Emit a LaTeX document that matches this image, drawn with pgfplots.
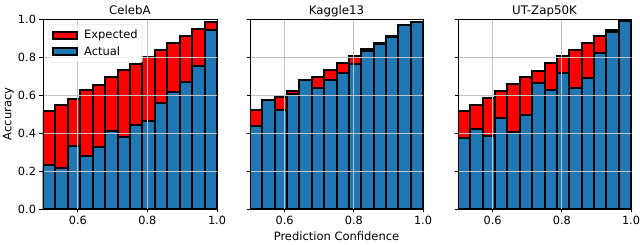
\documentclass[border=0pt]{standalone}
\usepackage{fontspec}
\setmainfont{DejaVu Sans}
\usepackage{pgfplots}
\usepackage{pgfplotstable}
\pgfplotsset{compat=1.18}
\definecolor{tabblue}{RGB}{31,119,180}
\definecolor{gridgray}{RGB}{195,195,195}

\pgfplotstableread{
x exp act
0.517857 0.518 0.231
0.553571 0.545 0.214
0.589286 0.580 0.331
0.625000 0.627 0.279
0.660714 0.655 0.328
0.696429 0.693 0.412
0.732143 0.729 0.378
0.767857 0.764 0.442
0.803571 0.802 0.465
0.839286 0.839 0.556
0.875000 0.872 0.617
0.910714 0.913 0.670
0.946429 0.947 0.754
0.982143 0.982 0.940
}\celeba

\pgfplotstableread{
x exp act
0.517857 0.520 0.437
0.553571 0.554 0.572
0.589286 0.590 0.521
0.625000 0.621 0.604
0.660714 0.661 0.680
0.696429 0.695 0.635
0.732143 0.730 0.679
0.767857 0.767 0.714
0.803571 0.803 0.761
0.839286 0.840 0.830
0.875000 0.873 0.866
0.910714 0.910 0.907
0.946429 0.946 0.971
0.982143 0.982 0.982
}\kaggle

\pgfplotstableread{
x exp act
0.517857 0.517 0.375
0.553571 0.547 0.419
0.589286 0.584 0.384
0.625000 0.622 0.477
0.660714 0.657 0.407
0.696429 0.695 0.495
0.732143 0.728 0.661
0.767857 0.768 0.626
0.803571 0.804 0.714
0.839286 0.836 0.639
0.875000 0.872 0.691
0.910714 0.908 0.823
0.946429 0.944 0.931
0.982143 0.982 0.991
}\zap

\pgfplotsset{
  myax/.style={
    scale only axis, width=174pt, height=190pt,
    xmin=0.5, xmax=1, ymin=0, ymax=1,
    xtick={0.6,0.8,1.0}, ytick={0,0.2,0.4,0.6,0.8,1.0},
    ybar,
    grid=major, grid style={line width=0.9pt, color=gridgray},
    axis on top,
    tick align=outside, tick pos=left, major tick length=3.5pt,
    tick style={black, line width=0.8pt},
    axis line style={line width=0.8pt},
    /pgf/number format/assume math mode=true,
    xticklabel style={font=\fontsize{11.3}{13}\selectfont, /pgf/number format/.cd, fixed, fixed zerofill, precision=1},
    yticklabel style={font=\fontsize{11.3}{13}\selectfont, /pgf/number format/.cd, fixed, fixed zerofill, precision=1},
    every axis title/.style={at={([yshift=4.5pt]axis description cs:0.5,1)}, anchor=base, font=\fontsize{11.8}{13}\selectfont},
    every axis x label/.style={at={([yshift=-31.5pt]axis description cs:0.5,0)}, anchor=base, font=\fontsize{11.5}{13}\selectfont},
    every axis y label/.style={at={([xshift=-31.5pt]axis description cs:0,0.5)}, anchor=base, rotate=90, font=\fontsize{11.5}{13}\selectfont},
  },
  expbar/.style={fill=red, draw=black, line width=2pt, bar width=0.0357143, bar shift=0pt},
  actbar/.style={fill=tabblue, draw=black, line width=2pt, bar width=0.0357143, bar shift=0pt},
}

\begin{document}
\begin{tikzpicture}[x=1pt,y=1pt]
\path[use as bounding box] (0,0) rectangle (640,245);

\begin{axis}[myax, at={(43pt,36pt)}, anchor=south west,
  title={CelebA}, ylabel={Accuracy},
  legend style={at={(0.035,0.972)}, anchor=north west, draw=gray!35, fill=white, fill opacity=0.8, draw opacity=1, text opacity=1, rounded corners=2pt, font=\fontsize{11.5}{13}\selectfont, row sep=2.5pt, column sep=4pt, inner xsep=3pt, inner ysep=3.5pt},
  legend cell align=left,
  legend image code/.code={\draw[#1, line width=1.8pt, fill opacity=1, sharp corners] (0pt,-3.5pt) rectangle (24pt,3.5pt);},
]
\addplot[expbar] table[x=x, y=exp] {\celeba};
\addlegendentry{Expected}
\addplot[actbar] table[x=x, y=act] {\celeba};
\addlegendentry{Actual}
\end{axis}

\begin{axis}[myax, at={(250pt,36pt)}, anchor=south west, width=173pt,
  title={Kaggle13}, xlabel={Prediction Confidence}, yticklabels={}]
\addplot[expbar] table[x=x, y=exp] {\kaggle};
\addplot[actbar] table[x=x, y=act] {\kaggle};
\end{axis}

\begin{axis}[myax, at={(458pt,36pt)}, anchor=south west, width=173pt,
  title={UT-Zap50K}, yticklabels={}]
\addplot[expbar] table[x=x, y=exp] {\zap};
\addplot[actbar] table[x=x, y=act] {\zap};
\end{axis}
\end{tikzpicture}
\end{document}
